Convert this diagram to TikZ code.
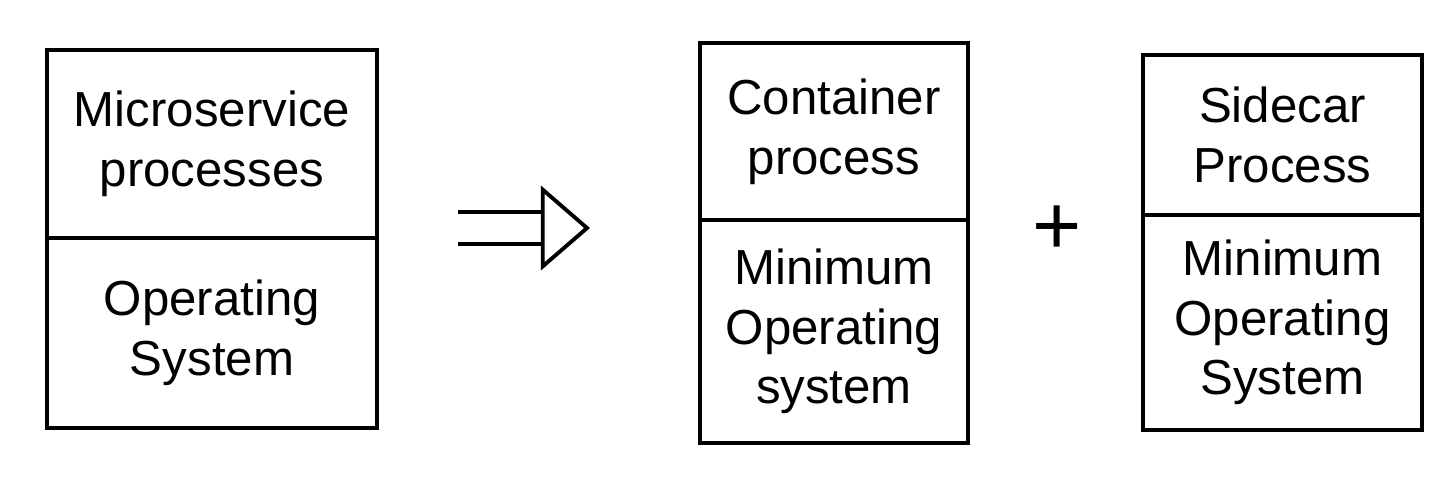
\documentclass[tikz,border=0pt]{standalone}
\usepackage{fontspec}
\setmainfont{Liberation Sans}
\usepackage{xcolor}
\usetikzlibrary{positioning,arrows.meta}

\begin{document}
\begin{tikzpicture}[
      cell/.style={rectangle, draw, line width=1.1pt, outer sep=0pt, align=center, font=\fontsize{14}{17}\selectfont},
      implies/.style={double, double distance=8pt, line width=1.1pt, -{Triangle[open, length=14pt, width=24pt]}},
      plus/.style={font=\fontsize{24}{24}\selectfont}
  ]
  \useasboundingbox (0,0) rectangle (14.56,-4.93);
  % Nodes
  \node[cell, minimum width=3.3cm, minimum height=1.88cm, anchor=north west] (msProc) at (0.47,-0.50) {Microservice\\processes};
  \node[cell, minimum width=3.3cm, minimum height=1.90cm, below=0pt of msProc] (msOs) {Operating\\System};
  \node[cell, minimum width=2.68cm, minimum height=1.77cm, anchor=north west] (ctProc) at (7.00,-0.43) {Container\\process};
  \node[cell, minimum width=2.68cm, minimum height=2.23cm, below=0pt of ctProc] (ctOs) {Minimum\\Operating\\system};
  \node[plus] (plus) at (10.57,-2.30) {+};
  \node[cell, minimum width=2.79cm, minimum height=1.60cm, anchor=north west] (scProc) at (11.43,-0.55) {Sidecar\\Process};
  \node[cell, minimum width=2.79cm, minimum height=2.15cm, below=0pt of scProc] (scOs) {Minimum\\Operating\\System};
  \coordinate (arrTail) at (4.58,-2.28);
  \coordinate (arrHead) at (5.90,-2.28);
  % Arrows
  \draw[implies] (arrTail) -- (arrHead);
\end{tikzpicture}
\end{document}
